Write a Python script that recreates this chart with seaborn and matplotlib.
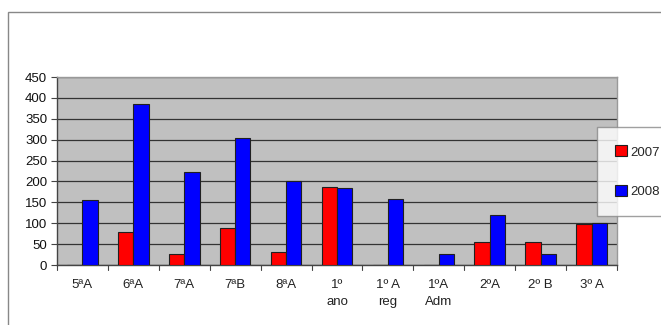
import matplotlib
matplotlib.use("Agg")
import matplotlib.pyplot as plt
import matplotlib.patches as mpatches
import seaborn as sns
import pandas as pd

categories = ["5ªA", "6ªA", "7ªA", "7ªB", "8ªA", "1º\nano", "1º A\nreg", "1ºA\nAdm", "2ºA", "2º B", "3º A"]
values_2007 = [0, 79, 26, 88, 30, 187, 0, 0, 55, 55, 98]
values_2008 = [156, 386, 222, 304, 202, 184, 159, 27, 120, 27, 101]
series = ["2007", "2008"]
colors = ["#ff0000", "#0000ff"]
y_ticks = [0, 50, 100, 150, 200, 250, 300, 350, 400, 450]

df = pd.DataFrame({
    "turma": categories * 2,
    "ano": [series[0]] * len(categories) + [series[1]] * len(categories),
    "valor": values_2007 + values_2008,
})

sns.set_style("white")
plt.rcParams["font.family"] = ["Liberation Sans", "DejaVu Sans"]

fig = plt.figure(figsize=(6.61, 3.25), dpi=100)
ax = fig.add_axes([57 / 661, 1 - 265 / 325, 560 / 661, 188 / 325])

sns.barplot(data=df, x="turma", y="valor", hue="ano", palette=colors,
            saturation=1, width=0.6, gap=0, ax=ax, edgecolor="#202020",
            linewidth=0.8, legend=False, zorder=3)

ax.set_facecolor("#c0c0c0")
ax.set_ylim(0, 450)
ax.set_xlim(-0.5, len(categories) - 0.5)
ax.set_yticks(y_ticks)
ax.set_yticklabels([str(v) for v in y_ticks], fontsize=9.5, color="#111111")
ax.yaxis.grid(True, color="#333333", linewidth=0.9, zorder=0)
ax.set_axisbelow(True)
ax.set_xlabel("")
ax.set_ylabel("")

# category labels centred under each group, tick marks on the separators
ax.set_xticks(range(len(categories)))
ax.set_xticklabels(categories, fontsize=9.5, color="#222222", linespacing=1.6)
ax.tick_params(axis="x", length=0, pad=10)
for xs in [i + 0.5 for i in range(-1, len(categories))]:
    ax.plot([xs, xs], [0, -0.025], transform=ax.get_xaxis_transform(),
            color="#444444", lw=0.8, clip_on=False)
ax.tick_params(axis="y", length=4, width=0.8, color="#444444", pad=3, left=True)
for lab in ax.get_xticklabels():
    lab.set_verticalalignment("top")

for side in ["top", "right"]:
    ax.spines[side].set_color("#999999")
    ax.spines[side].set_linewidth(1.0)
for side in ["left", "bottom"]:
    ax.spines[side].set_color("#444444")
    ax.spines[side].set_linewidth(1.0)

# outer chart frame
fig.add_artist(mpatches.Rectangle((8 / 661, -0.02), 1.0, 1 - 12 / 325 + 0.02,
                                  transform=fig.transFigure, fill=False,
                                  edgecolor="#888888", linewidth=1.0))

handles = [mpatches.Patch(facecolor=c, edgecolor="#202020", linewidth=0.8, label=s)
           for c, s in zip(colors, series)]
fig.legend(handles=handles, loc="upper left",
           bbox_to_anchor=(597 / 661, 1 - 127 / 325),
           frameon=True, fancybox=False, edgecolor="#888888",
           fontsize=9.5, handlelength=0.9, handleheight=0.9, handletextpad=0.2,
           labelspacing=2.0, borderpad=1.4, borderaxespad=0)

fig.savefig("out.png", dpi=100)
